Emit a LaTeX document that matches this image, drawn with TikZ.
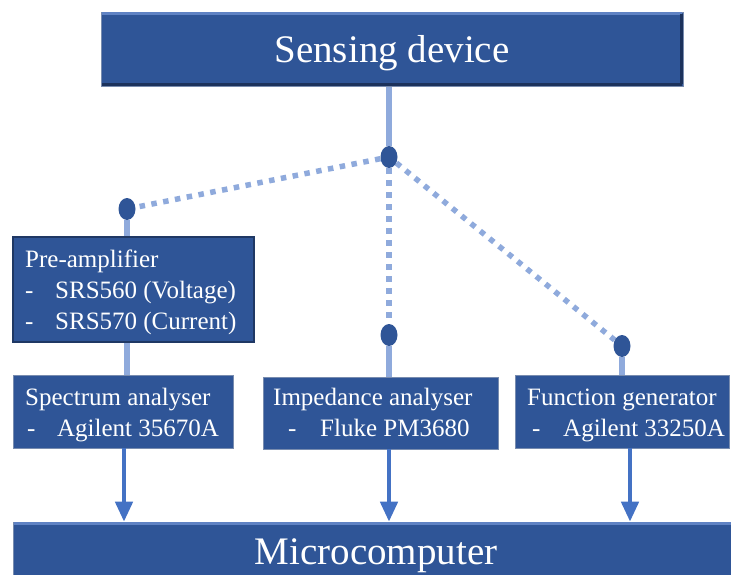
\documentclass[tikz,border=0pt]{standalone}
\usepackage{fontspec}
\setmainfont{Liberation Serif}
\usetikzlibrary{arrows.meta,shapes.geometric,backgrounds}
\definecolor{boxblue}{RGB}{47,85,151}
\definecolor{boxedge}{RGB}{31,56,100}
\definecolor{thinedge}{RGB}{120,140,175}
\definecolor{bevellight}{RGB}{95,130,195}
\definecolor{beveldark}{RGB}{28,50,92}
\definecolor{lightline}{RGB}{143,170,220}
\definecolor{dotblue}{RGB}{47,85,151}
\definecolor{arrowblue}{RGB}{68,114,196}
\begin{document}
\begin{tikzpicture}[x=1pt,y=-1pt,
  bigbox/.style={draw=thinedge,line width=0.6pt,fill=boxblue,inner sep=0pt},
  devbox/.style={draw=thinedge,line width=0.6pt,fill=boxblue,inner sep=0pt},
  prebox/.style={draw=boxedge,line width=1.6pt,fill=boxblue,inner sep=0pt},
  bigtxt/.style={text=white,inner sep=0pt,font=\fontsize{39}{46}\selectfont},
  devtxt/.style={text=white,inner sep=0pt,anchor=base west,font=\fontsize{25}{31}\selectfont},
  dot/.style={ellipse,fill=dotblue,draw=none,minimum width=17pt,minimum height=22pt,inner sep=0pt},
  solidlink/.style={draw=lightline,line width=5.5pt},
  dotlink/.style={draw=lightline,line width=5.5pt,dash pattern=on 5.5pt off 6.5pt},
  flow/.style={draw=arrowblue,line width=4.5pt,-{Triangle[width=17pt,length=20pt]}},
  bevtop/.style={draw=bevellight,line width=2.5pt},
  bevbot/.style={draw=beveldark,line width=2.5pt}
]
\useasboundingbox (0,0) rectangle (731,575);

% boxes
\node[bigbox,minimum width=582pt,minimum height=74pt] (sense) at (392,49) {};
\node[prebox,minimum width=241pt,minimum height=105pt] (pre) at (133.5,289.5) {};
\node[devbox,minimum width=220pt,minimum height=73pt] (spec) at (123,411.5) {};
\node[devbox,minimum width=235pt,minimum height=72pt] (imp) at (380.5,413) {};
\node[devbox,minimum width=214pt,minimum height=73pt] (func) at (622,411.5) {};
\node[bigbox,minimum width=747pt,minimum height=78pt] (micro) at (386.5,561) {};

% bevels
\draw[bevtop] ([xshift=1.5pt,yshift=-2pt]sense.north west) -- ([xshift=-1.5pt,yshift=-2pt]sense.north east);
\draw[bevbot] ([xshift=1.5pt,yshift=2pt]sense.south west) -- ([xshift=-1.5pt,yshift=2pt]sense.south east);
\draw[bevbot] ([xshift=-2pt,yshift=-2pt]sense.north east) -- ([xshift=-2pt,yshift=2pt]sense.south east);
\draw[bevtop] ([xshift=1.5pt,yshift=-2pt]micro.north west) -- ([xshift=-1.5pt,yshift=-2pt]micro.north east);

% texts
\node[bigtxt,anchor=base] (sensetxt) at (392,63) {Sensing device};
\node[bigtxt,anchor=base] (microtxt) at (376,564) {Microcomputer};
\node[devtxt] (pretxt) at (25,267) {\begin{tabular}[t]{@{}l@{}}Pre-amplifier\\\makebox[30pt][l]{-}SRS560 (Voltage)\\\makebox[30pt][l]{-}SRS570 (Current)\end{tabular}};
\node[devtxt] (spectxt) at (25,405) {\begin{tabular}[t]{@{}l@{}}Spectrum analyser\\\hspace{2pt}\makebox[30pt][l]{-}Agilent 35670A\end{tabular}};
\node[devtxt] (imptxt) at (273,405) {\begin{tabular}[t]{@{}l@{}}Impedance analyser\\\hspace{15pt}\makebox[32pt][l]{-}Fluke PM3680\end{tabular}};
\node[devtxt] (functxt) at (527,405) {\begin{tabular}[t]{@{}l@{}}Function generator\\\hspace{5pt}\makebox[31pt][l]{-}Agilent 33250A\end{tabular}};

% junction dots
\node[dot] (cdot) at (389,157) {};
\node[dot] (ldot) at (127,209) {};
\node[dot] (mdot) at (389,335) {};
\node[dot] (rdot) at (622,346) {};

\begin{scope}[on background layer]
  \draw[solidlink] (cdot |- sense.south) -- (cdot);
  \draw[dotlink] (cdot) -- (ldot);
  \draw[dotlink] (cdot) -- (mdot);
  \draw[dotlink] (cdot) -- (rdot);
  \draw[solidlink] (ldot) -- (ldot |- pre.north);
  \draw[solidlink] (ldot |- pre.south) -- (ldot |- spec.north);
  \draw[solidlink] (mdot) -- (mdot |- imp.north);
  \draw[solidlink] (rdot) -- (rdot |- func.north);
\end{scope}

% arrows to microcomputer
\draw[flow] ([xshift=1pt]spec.south) -- ([xshift=1pt]spec.south |- micro.north);
\draw[flow] (mdot |- imp.south) -- (mdot |- micro.north);
\draw[flow] ([xshift=8pt]func.south) -- ([xshift=8pt]func.south |- micro.north);
\end{tikzpicture}
\end{document}
